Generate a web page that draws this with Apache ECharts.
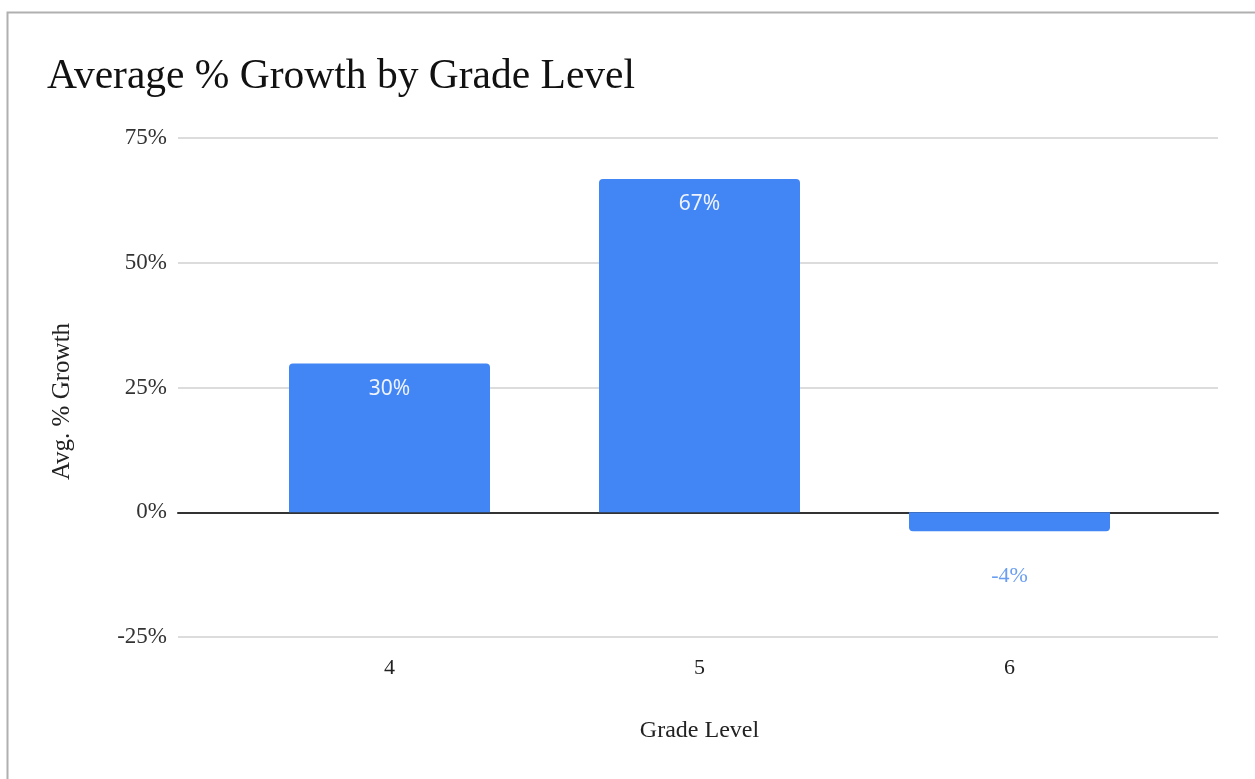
<!DOCTYPE html>
<html>
<head>
<meta charset="utf-8">
<script src="https://cdn.jsdelivr.net/npm/echarts@6/dist/echarts.min.js"></script>
<style>
html,body{margin:0;padding:0;background:#fff;}
#chart{width:1255px;height:779px;}
</style>
</head>
<body>
<div id="chart"></div>
<script>
const titleText = 'Average % Growth by Grade Level';
const categories = ['4', '5', '6'];
const growthValues = [29.8, 66.8, -3.8];
const yTicks = [-25, 0, 25, 50, 75];
const xAxisName = 'Grade Level';
const yAxisName = 'Avg. % Growth';

const serif = '"Liberation Serif", "Times New Roman", serif';
const sans = '"Noto Sans", "Open Sans", sans-serif';
const yMin = yTicks[0], yMax = yTicks[yTicks.length - 1];
const yInterval = yTicks[1] - yTicks[0];

const chart = echarts.init(document.getElementById('chart'), null, {renderer: 'canvas'});

const seriesData = growthValues.map(v => {
  if (v < 0) {
    return {
      value: v,
      itemStyle: {borderRadius: [0, 0, 4, 4]},
      label: {position: 'bottom', distance: 34, color: '#6a9ef2', fontFamily: serif, fontSize: 22}
    };
  }
  return {value: v};
});

chart.setOption({
  animation: false,
  backgroundColor: '#fff',
  title: {
    text: titleText,
    left: 42, top: 51,
    textStyle: {fontFamily: serif, fontSize: 41.5, fontWeight: 'normal', color: '#111'}
  },
  graphic: [{
    type: 'polyline',
    shape: {points: [[7.5, 790], [7.5, 12.5], [1260, 12.5]]},
    style: {stroke: '#b0b0b0', lineWidth: 2, fill: null},
    silent: true
  }],
  grid: [
    {left: 178, right: 37, top: 138, bottom: 142},
    {left: 234.5, right: 90.5, top: 138, bottom: 142}
  ],
  xAxis: [
    {
      gridIndex: 0, type: 'value', min: 0, max: 1,
      axisLine: {show: true, onZero: true, lineStyle: {color: '#333', width: 2}},
      axisTick: {show: false}, axisLabel: {show: false}, splitLine: {show: false}
    },
    {
      gridIndex: 1, type: 'category', data: categories,
      axisLine: {show: false}, axisTick: {show: false},
      axisLabel: {fontFamily: serif, fontSize: 22, color: '#222', margin: 20},
      name: xAxisName, nameLocation: 'middle', nameGap: 82,
      nameTextStyle: {fontFamily: serif, fontSize: 24, color: '#222'}
    }
  ],
  yAxis: [
    {
      gridIndex: 0, type: 'value', min: yMin, max: yMax, interval: yInterval,
      axisLine: {show: false}, axisTick: {show: false},
      axisLabel: {fontFamily: serif, fontSize: 23, color: '#333', margin: 11, formatter: v => v + '%'},
      splitLine: {lineStyle: {color: '#d0d0d0', width: 1.5}},
      name: yAxisName, nameLocation: 'middle', nameGap: 103,
      nameTextStyle: {fontFamily: serif, fontSize: 25, color: '#222', padding: [0, 28, 0, 0]}
    },
    {
      gridIndex: 1, type: 'value', min: yMin, max: yMax, interval: yInterval, show: false
    }
  ],
  series: [{
    type: 'bar',
    xAxisIndex: 1, yAxisIndex: 1,
    data: seriesData,
    barWidth: 201,
    itemStyle: {color: '#4285f4', borderRadius: [4, 4, 0, 0]},
    label: {
      show: true, position: 'insideTop', distance: 15,
      fontFamily: sans, fontSize: 21, color: '#eef3ff',
      formatter: p => Math.round(p.value) + '%'
    }
  }]
});
</script>
</body>
</html>
